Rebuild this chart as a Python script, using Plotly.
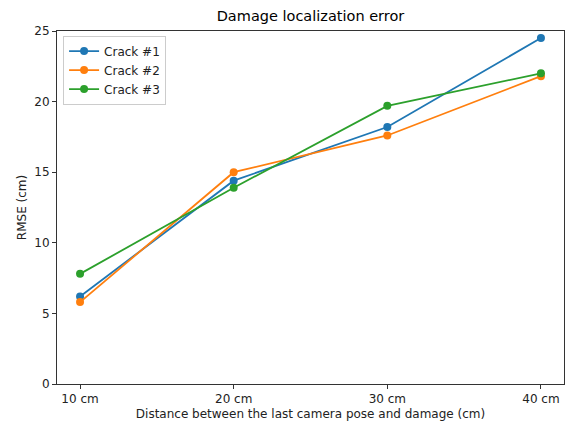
import plotly.graph_objects as go

categories = ["10 cm", "20 cm", "30 cm", "40 cm"]
crack1 = [6.2, 14.4, 18.2, 24.5]
crack2 = [5.8, 15.0, 17.6, 21.8]
crack3 = [7.8, 13.9, 19.7, 22.0]
series_names = ["Crack #1", "Crack #2", "Crack #3"]
colors = ["#1f77b4", "#ff7f0e", "#2ca02c"]
y_ticks = [0, 5, 10, 15, 20, 25]

xs = list(range(len(categories)))
fig = go.Figure()
for name, vals, c in zip(series_names, [crack1, crack2, crack3], colors):
    fig.add_trace(go.Scatter(x=xs, y=vals, name=name, mode="lines+markers",
                             line=dict(color=c, width=1.8),
                             marker=dict(color=c, size=8)))

font = "DejaVu Sans"
fig.update_layout(
    width=568, height=423,
    margin=dict(l=57, r=4, t=31, b=39),
    paper_bgcolor="white", plot_bgcolor="white",
    font=dict(family=font, size=12, color="#222"),
    title=dict(text="Damage localization error", x=0.5, xanchor="center",
               xref="paper", y=1, yref="container", yanchor="top", pad=dict(t=11),
               font=dict(size=14.5, color="black")),
    showlegend=True,
    legend=dict(x=0.012, y=0.987, xanchor="left", yanchor="top",
                bgcolor="rgba(255,255,255,0.8)", bordercolor="#cccccc", borderwidth=1,
                font=dict(size=12, color="#222"), tracegroupgap=0,
                itemwidth=30),
    xaxis=dict(range=[-0.15, 3.15], tickmode="array", tickvals=xs, ticktext=categories,
               showgrid=False, zeroline=False, showline=True, linecolor="#333", linewidth=1,
               mirror=True, ticks="outside", ticklen=4, tickcolor="#333",
               title=dict(text="Distance between the last camera pose and damage (cm)",
                          font=dict(size=12, color="#222"), standoff=4)),
    yaxis=dict(range=[0, 25], tickmode="array", tickvals=y_ticks,
               showgrid=False, zeroline=False, showline=True, linecolor="#333", linewidth=1,
               mirror=True, ticks="outside", ticklen=4, tickcolor="#333",
               title=dict(text="RMSE (cm)", font=dict(size=12, color="#222"), standoff=5)),
)
fig.write_html("out.html", config={"displayModeBar": False},
               post_script="document.body.style.margin='0';document.body.style.overflow='hidden';")
